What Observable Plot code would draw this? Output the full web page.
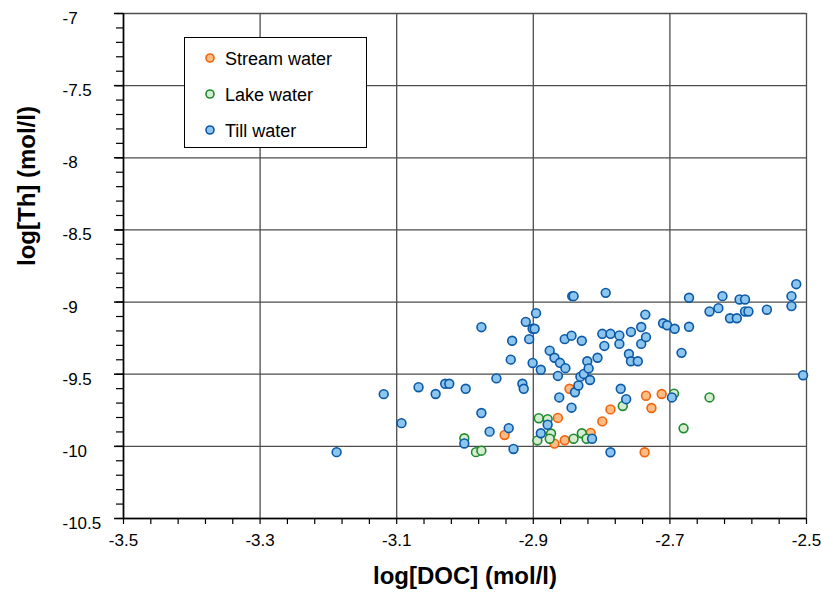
<!DOCTYPE html>
<html>
<head>
<meta charset="utf-8">
<script src="https://cdn.jsdelivr.net/npm/d3@7"></script>
<script src="https://cdn.jsdelivr.net/npm/@observablehq/plot@0.6"></script>
<style>
  html, body { margin: 0; padding: 0; background: #fff; }
  #wrap { position: relative; width: 821px; height: 597px; font-family: "Liberation Sans", Arial, sans-serif; }
  #legend { position: absolute; left: 184px; top: 37px; width: 181px; height: 109px; border: 1px solid #000; background: #fff; }
  .li { position: absolute; left: 0; height: 24px; width: 180px; }
  .li svg { position: absolute; left: 19px; top: 4px; }
  .li span { position: absolute; left: 40px; top: 0; font-size: 18px; line-height: 22px; color: #000; }
</style>
</head>
<body>
<div id="wrap"></div>
<script>
// Tick labels
const xTicks = [-3.5, -3.3, -3.1, -2.9, -2.7, -2.5];
const yTicks = [-7, -7.5, -8, -8.5, -9, -9.5, -10, -10.5];

// Series names
const seriesNames = ["Stream water", "Lake water", "Till water"];

// Stream water
const streamX = [-2.942, -2.869, -2.864, -2.854, -2.847, -2.816, -2.799, -2.787, -2.737, -2.735, -2.727, -2.712];
const streamY = [-9.921, -9.981, -9.803, -9.958, -9.601, -9.907, -9.827, -9.744, -10.041, -9.649, -9.734, -9.637];

// Lake water
const lakeX = [-3.001, -2.984, -2.976, -2.892, -2.879, -2.874, -2.894, -2.876, -2.841, -2.829, -2.822, -2.769, -2.694, -2.680, -2.642];
const lakeY = [-9.944, -10.040, -10.030, -9.805, -9.811, -9.911, -9.959, -9.947, -9.947, -9.909, -9.947, -9.720, -9.635, -9.875, -9.661];

// Till water
const tillX = [-3.188, -3.119, -3.093, -3.068, -3.043, -3.029, -3.023, -3.001, -2.999, -2.976, -2.976, -2.964, -2.954, -2.936, -2.933, -2.931, -2.929, -2.916, -2.914, -2.911, -2.906, -2.901, -2.898, -2.901, -2.896, -2.889, -2.889, -2.879, -2.876, -2.869, -2.864, -2.861, -2.862, -2.854, -2.853, -2.844, -2.843, -2.841, -2.844, -2.839, -2.834, -2.829, -2.831, -2.826, -2.821, -2.819, -2.817, -2.814, -2.806, -2.799, -2.796, -2.794, -2.787, -2.787, -2.774, -2.774, -2.772, -2.764, -2.760, -2.757, -2.757, -2.747, -2.742, -2.742, -2.736, -2.735, -2.710, -2.704, -2.697, -2.693, -2.683, -2.672, -2.672, -2.642, -2.629, -2.623, -2.612, -2.602, -2.598, -2.590, -2.590, -2.585, -2.558, -2.522, -2.522, -2.515, -2.505];
const tillY = [-10.040, -9.638, -9.839, -9.590, -9.637, -9.566, -9.566, -9.980, -9.601, -9.174, -9.769, -9.898, -9.529, -9.874, -9.399, -9.268, -10.018, -9.566, -9.601, -9.137, -9.257, -9.185, -9.185, -9.422, -9.077, -9.469, -9.909, -9.850, -9.337, -9.386, -9.512, -9.421, -9.661, -9.257, -9.458, -9.233, -8.959, -8.959, -9.732, -9.625, -9.578, -9.268, -9.517, -9.498, -9.410, -9.460, -9.540, -9.947, -9.386, -9.220, -9.304, -8.936, -10.041, -9.220, -9.290, -9.231, -9.601, -9.673, -9.360, -9.207, -9.410, -9.410, -9.173, -9.290, -9.087, -9.243, -9.147, -9.161, -9.661, -9.185, -9.352, -8.970, -9.171, -9.065, -9.042, -8.959, -9.112, -9.112, -8.982, -8.982, -9.065, -9.065, -9.053, -8.959, -9.028, -8.876, -9.507];

const fills = ["#fdbc86", "#d6ecd0", "#8cc5ee"];
const strokes = ["#f0640c", "#1e8b2f", "#0b59a6"];

const table = [];
[[streamX, streamY], [lakeX, lakeY], [tillX, tillY]].forEach(([xs, ys], s) => {
  xs.forEach((x, i) => table.push({series: seriesNames[s], x, y: ys[i]}));
});

const xMinor = d3.range(0, 26).map(i => -3.5 + i * 0.04);
const yMinor = d3.range(0, 36).map(i => -10.5 + i * 0.1);
const fmt = d => String(d);

const chart = Plot.plot({
  width: 821,
  height: 597,
  marginLeft: 123,
  marginRight: 15,
  marginTop: 13,
  marginBottom: 79,
  x: {domain: [-3.5, -2.5]},
  y: {domain: [-10.5, -7]},
  color: {domain: seriesNames, range: fills},
  style: {fontFamily: "'Liberation Sans', Arial, sans-serif", fontSize: "17px", color: "#000", background: "#fff", overflow: "visible"},
  marks: [
    Plot.gridX(xTicks, {stroke: "#4d4d4d", strokeOpacity: 1, strokeWidth: 1.3}),
    Plot.gridY(yTicks, {stroke: "#4d4d4d", strokeOpacity: 1, strokeWidth: 1.3}),
    Plot.axisX(xMinor, {tickSize: 6, tickFormat: () => "", label: null, stroke: "#000", strokeWidth: 1.2}),
    Plot.axisY(yMinor, {tickSize: 7, tickFormat: () => "", label: null, stroke: "#000", strokeWidth: 1.2}),
    Plot.axisY(yTicks, {tickSize: 9, tickFormat: () => "", label: null, stroke: "#000", strokeWidth: 1.5}),
    Plot.axisX(xTicks, {tickSize: 0, tickPadding: 15, tickFormat: fmt, label: null, fontSize: 17}),
    Plot.axisY(yTicks, {tickSize: 0, tickPadding: 61, textAnchor: "start", dy: 5, tickFormat: fmt, label: null, fontSize: 17}),
    Plot.ruleX([-3.5], {stroke: "#000", strokeWidth: 1.6}),
    Plot.ruleY([-10.5], {stroke: "#000", strokeWidth: 1.6}),
    Plot.dot(table, {x: "x", y: "y", r: 4.4, fill: "series", stroke: d => strokes[seriesNames.indexOf(d.series)], strokeWidth: 1.6}),
    Plot.text(["log[DOC] (mol/l)"], {frameAnchor: "bottom", dy: 65, fontSize: 24, fontWeight: "bold", fill: "#000"}),
    Plot.text(["log[Th] (mol/l)"], {frameAnchor: "left", dx: -96, rotate: -90, fontSize: 24, fontWeight: "bold", fill: "#000"})
  ]
});

const wrap = document.getElementById("wrap");
wrap.appendChild(chart);

const legend = document.createElement("div");
legend.id = "legend";
const rowsTop = [10, 46, 82];
seriesNames.forEach((name, i) => {
  const row = document.createElement("div");
  row.className = "li";
  row.style.top = rowsTop[i] + "px";
  row.innerHTML = `<svg width="12" height="12"><circle cx="6" cy="6" r="4" fill="${fills[i]}" stroke="${strokes[i]}" stroke-width="1.6"/></svg><span>${name}</span>`;
  legend.appendChild(row);
});
wrap.appendChild(legend);
</script>
</body>
</html>
